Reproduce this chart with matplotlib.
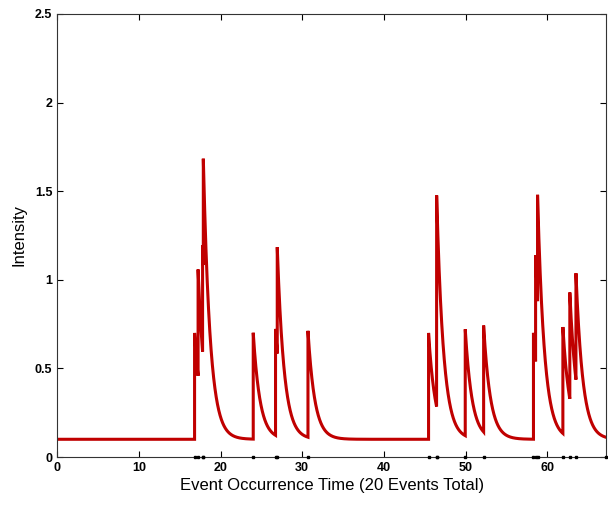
import numpy as np
import matplotlib
matplotlib.use("Agg")
import matplotlib.pyplot as plt

# Event occurrence times (20 events)
event_times = [16.82, 17.25, 17.8, 17.89, 24.0, 26.73, 26.94, 30.7,
               45.46, 46.44, 46.45, 49.95, 52.2,
               58.3, 58.56, 58.8, 61.9, 62.75, 63.5, 67.2]
# Hawkes intensity parameters (baseline, jump size, decay rate)
mu = 0.1
alpha = 0.6
beta = 1.2

x_ticks = [0, 10, 20, 30, 40, 50, 60]
y_ticks = [0, 0.5, 1, 1.5, 2, 2.5]
y_tick_labels = ["0", "0.5", "1", "1.5", "2", "2.5"]
t_end = event_times[-1]

ev = np.array(event_times)
grid = np.linspace(0, t_end, 6000)
# evaluate left and right limits at each event for vertical jumps
ts = np.concatenate([grid, ev, ev])
side = np.concatenate([np.zeros_like(grid), np.zeros_like(ev), np.ones_like(ev)])
keep = ~((ts >= t_end) & (side == 1))
ts, side = ts[keep], side[keep]
order = np.lexsort((side, ts))
ts = ts[order]
side = side[order]

def intensity(t, right):
    d = t - ev
    mask = (d > 0) | ((d == 0) & right)
    return mu + alpha * np.sum(np.exp(-beta * d[mask]))

lam = np.array([intensity(t, bool(s)) for t, s in zip(ts, side)])

fig = plt.figure(figsize=(6.08, 5.07), dpi=100)
ax = fig.add_axes([0.094, 0.0986, 0.903, 0.874])
ax.plot(ts, lam, color="#C00000", lw=2.2, solid_joinstyle="miter")
ax.plot(ev, np.zeros_like(ev), linestyle="none", marker="s", ms=2.0,
        color="black", clip_on=False, zorder=5)

ax.set_xlim(0, t_end)
ax.set_ylim(0, 2.5)
ax.set_xticks(x_ticks)
ax.set_yticks(y_ticks)
ax.set_yticklabels(y_tick_labels)
ax.tick_params(direction="in", top=True, right=True, length=4, width=0.8,
               labelsize=9)
for lab in ax.get_xticklabels() + ax.get_yticklabels():
    lab.set_fontweight("bold")
    lab.set_family("Liberation Sans")
ax.set_xlabel("Event Occurrence Time (20 Events Total)", fontsize=12,
              family="Liberation Sans", labelpad=3)
ax.set_ylabel("Intensity", fontsize=12, family="Liberation Sans", labelpad=6)
for s in ax.spines.values():
    s.set_linewidth(0.8)
    s.set_color("#333333")

fig.savefig("out.png", dpi=100)
